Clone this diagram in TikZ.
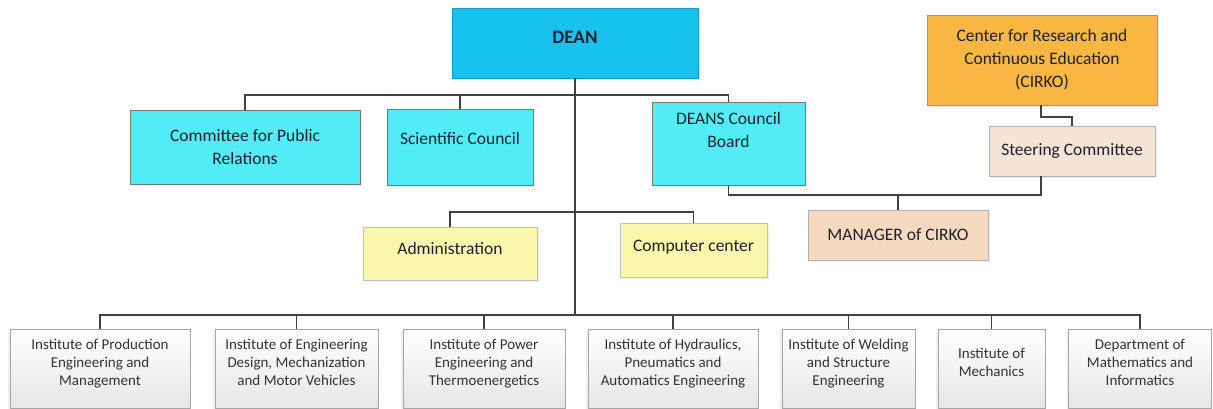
\documentclass[tikz,border=0pt]{standalone}
\usepackage{fontspec}
\setmainfont{Carlito}
\usetikzlibrary{shadows}
\definecolor{deanc}{RGB}{24,194,238}
\definecolor{cyanc}{RGB}{82,236,246}
\definecolor{orangec}{RGB}{248,183,66}
\definecolor{steerc}{RGB}{244,228,214}
\definecolor{mgrc}{RGB}{246,218,192}
\definecolor{yellowc}{RGB}{250,246,172}
\definecolor{linec}{RGB}{64,64,64}
\definecolor{txtc}{RGB}{30,32,45}
\definecolor{bordc}{RGB}{120,120,120}
\begin{document}
\begin{tikzpicture}[x=1pt,y=-1pt,
  boxc/.style={draw=bordc, line width=0.8pt, align=center, text=txtc, inner sep=2pt,
    font=\fontsize{17.5}{23}\selectfont,
    drop shadow={shadow xshift=1.5pt, shadow yshift=-2pt, fill=black!12}},
  instbox/.style={draw=black!35, line width=0.7pt, align=center, text=black!80,
    top color=white, bottom color=black!10, inner sep=2pt,
    font=\fontsize{15}{18}\selectfont, minimum height=79pt, text depth=12pt,
    drop shadow={shadow xshift=-2pt, shadow yshift=-2pt, fill=black!12}},
  conn/.style={draw=linec, line width=1.1pt}]
\useasboundingbox (0,0) rectangle (1213,409);

% top level
\node[boxc, fill=deanc, minimum width=246pt, minimum height=70pt, text depth=12pt,
  font=\bfseries\fontsize{19}{23}\selectfont, draw=deanc!80!black] (dean) at (575,43) {DEAN};
\node[boxc, fill=cyanc, minimum width=230pt, minimum height=74pt] (com) at (245,147) {Committee for Public\\Relations};
\node[boxc, fill=cyanc, minimum width=146pt, minimum height=76pt, text depth=18pt] (sci) at (460,147) {Scientific Council};
\node[boxc, fill=cyanc, minimum width=153pt, minimum height=83pt, text depth=28pt] (deans) at (728.5,143.5) {DEANS Council\\Board};
\node[boxc, fill=orangec, draw=orangec!80!black, minimum width=230pt, minimum height=90pt] (cirko) at (1042,60) {Center for Research and\\Continuous Education\\(CIRKO)};
\node[boxc, fill=steerc, draw=black!30, minimum width=166pt, minimum height=50pt] (steer) at (1072,151) {Steering Committee};
\node[boxc, fill=mgrc, draw=black!30, minimum width=180pt, minimum height=50pt] (mgr) at (898,235) {MANAGER of CIRKO};
\node[boxc, fill=yellowc, draw=black!25, minimum width=174pt, minimum height=53pt, text depth=10pt] (adm) at (450,253.5) {Administration};
\node[boxc, fill=yellowc, draw=black!25, minimum width=147pt, minimum height=54pt, text depth=8pt] (comp) at (693.5,250) {Computer center};

% bottom row
\node[instbox, minimum width=180pt] (i1) at (100,368.5) {Institute of Production\\Engineering and\\Management};
\node[instbox, minimum width=163pt] (i2) at (296.5,368.5) {Institute of Engineering\\Design, Mechanization\\and Motor Vehicles};
\node[instbox, minimum width=162pt] (i3) at (484,368.5) {Institute of Power\\Engineering and\\Thermoenergetics};
\node[instbox, minimum width=170pt] (i4) at (673,368.5) {Institute of Hydraulics,\\Pneumatics and\\Automatics Engineering};
\node[instbox, minimum width=133pt] (i5) at (848.5,368.5) {Institute of Welding\\and Structure\\Engineering};
\node[instbox, minimum width=107pt] (i6) at (991.5,368.5) {Institute of\\Mechanics};
\node[instbox, minimum width=143pt] (i7) at (1140,368.5) {Department of\\Mathematics and\\Informatics};

% connectors
\coordinate (b1) at (575,95);
\coordinate (b3) at (575,212);
\coordinate (b4) at (575,315);
\coordinate (c1) at (1072,117);
\coordinate (b2) at (1041,195);

\draw[conn] (dean.south) -- (b4);
\draw[conn] (com.north) |- (b1) -| (deans.north);
\draw[conn] (sci.north) -- (sci.north |- b1);
\draw[conn] (cirko.south -| b2) |- (c1) -- (steer.north);
\draw[conn] (deans.south) |- (b2) -- (steer.south -| b2);
\draw[conn] (mgr.north) -- (mgr.north |- b2);
\draw[conn] (adm.north) |- (b3) -| (comp.north);
\draw[conn] (i1.north) |- (b4) -| (i7.north);
\foreach \n in {i2,i3,i4,i5,i6} \draw[conn] (\n.north) -- (\n.north |- b4);
\end{tikzpicture}
\end{document}
